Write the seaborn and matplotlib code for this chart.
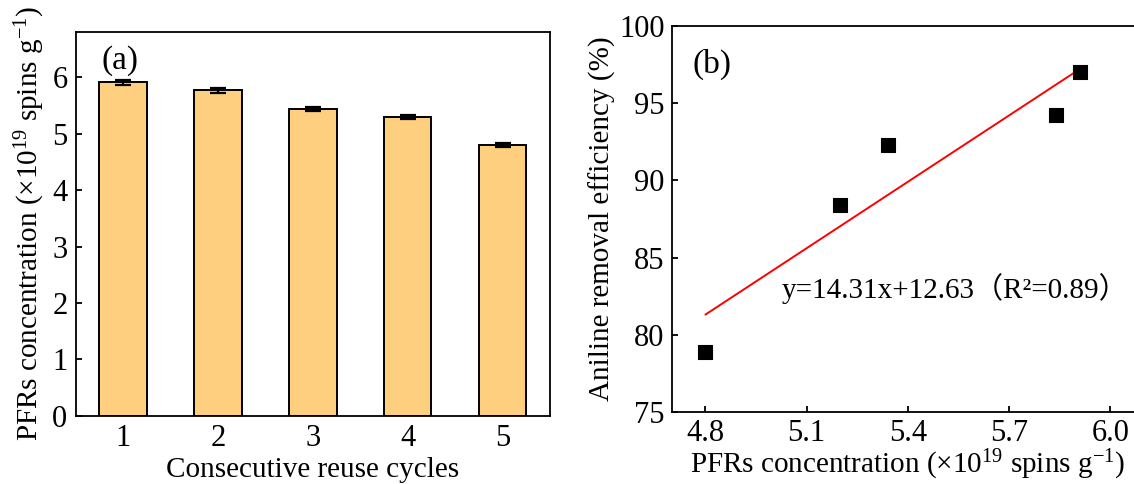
import matplotlib
matplotlib.use("Agg")
import matplotlib.pyplot as plt
import seaborn as sns
import numpy as np
import pandas as pd

# PFRs concentration over consecutive reuse cycles
cycles = ["1", "2", "3", "4", "5"]
pfrs = [5.91, 5.77, 5.44, 5.30, 4.80]
pfrs_err = [0.04, 0.05, 0.03, 0.03, 0.03]

# Aniline removal efficiency vs PFRs concentration
pfrs_x = [4.80, 5.20, 5.34, 5.84, 5.91]
removal = [78.9, 88.4, 92.3, 94.2, 97.0]
slope, intercept, r2 = 14.31, 12.63, 0.89

sns.set_theme(style="ticks")
plt.rcParams["font.family"] = ["Liberation Serif", "Noto Sans CJK SC", "DejaVu Sans"]
plt.rcParams["mathtext.fontset"] = "custom"
plt.rcParams["mathtext.rm"] = "Liberation Serif"
plt.rcParams["mathtext.it"] = "Liberation Serif:italic"
for key in ["text.color", "axes.labelcolor", "xtick.color", "ytick.color", "axes.edgecolor"]:
    plt.rcParams[key] = "black"
plt.rcParams["axes.linewidth"] = 1.3
plt.rcParams["xtick.direction"] = "in"
plt.rcParams["ytick.direction"] = "in"
plt.rcParams["xtick.major.size"] = 4.5
plt.rcParams["ytick.major.size"] = 4.5
plt.rcParams["xtick.major.width"] = 1.3
plt.rcParams["ytick.major.width"] = 1.3

TICK_FS = 22
LABEL_FS = 21
fig = plt.figure(figsize=(11.34, 4.84), dpi=100)
ax1 = fig.add_axes([0.0668, 0.1411, 0.4182, 0.7922])
ax2 = fig.add_axes([0.5923, 0.1481, 0.4165, 0.7988])

# (a) bar chart
df_a = pd.DataFrame({"cycle": cycles, "pfrs": pfrs})
sns.barplot(data=df_a, x="cycle", y="pfrs", ax=ax1, color="#FDCF7E",
            saturation=1, width=0.5, edgecolor="black", linewidth=1.4, errorbar=None)
ax1.errorbar(np.arange(len(cycles)), pfrs, yerr=pfrs_err, fmt="none",
             ecolor="black", elinewidth=1.6, capsize=5.5, capthick=1.6)
ax1.set_xlim(-0.5, 4.5)
ax1.set_ylim(0, 6.8)
ax1.set_yticks(range(0, 7))
ax1.set_xlabel("Consecutive reuse cycles", fontsize=LABEL_FS, labelpad=3)
ax1.set_ylabel("PFRs concentration (×10$^{19}$ spins g$^{\u22121}$)", fontsize=LABEL_FS, labelpad=4)
ax1.tick_params(labelsize=TICK_FS, pad=6)
ax1.text(0.055, 0.965, "(a)", transform=ax1.transAxes, fontsize=TICK_FS + 2, va="top", ha="left")

# (b) scatter with linear fit
df_b = pd.DataFrame({"x": pfrs_x, "y": removal})
sns.scatterplot(data=df_b, x="x", y="y", ax=ax2, marker="s", s=95,
                color="black", edgecolor="black", zorder=3)
fit_x = np.array([min(pfrs_x), max(pfrs_x)])
df_fit = pd.DataFrame({"x": fit_x, "y": slope * fit_x + intercept})
sns.lineplot(data=df_fit, x="x", y="y", ax=ax2, color="red", linewidth=1.4, zorder=2)
ax2.set_xlim(4.7, 6.1)
ax2.set_ylim(75, 100)
ax2.set_xticks([4.8, 5.1, 5.4, 5.7, 6.0])
ax2.set_xticklabels([f"{v:.1f}" for v in [4.8, 5.1, 5.4, 5.7, 6.0]])
ax2.set_yticks(range(75, 101, 5))
ax2.spines["right"].set_visible(False)
ax2.set_xlabel("PFRs concentration (×10$^{19}$ spins g$^{\u22121}$)", fontsize=LABEL_FS, labelpad=0)
ax2.set_ylabel("Aniline removal efficiency (%)", fontsize=LABEL_FS, labelpad=2)
ax2.tick_params(labelsize=TICK_FS, pad=5)
ax2.text(0.045, 0.94, "(b)", transform=ax2.transAxes, fontsize=TICK_FS + 2, va="top", ha="left")
ax2.text(5.025, 83.0, f"y={slope}x+{intercept}（R²={r2}）", fontsize=LABEL_FS,
         va="center", ha="left")

fig.savefig("out.png", dpi=100)
